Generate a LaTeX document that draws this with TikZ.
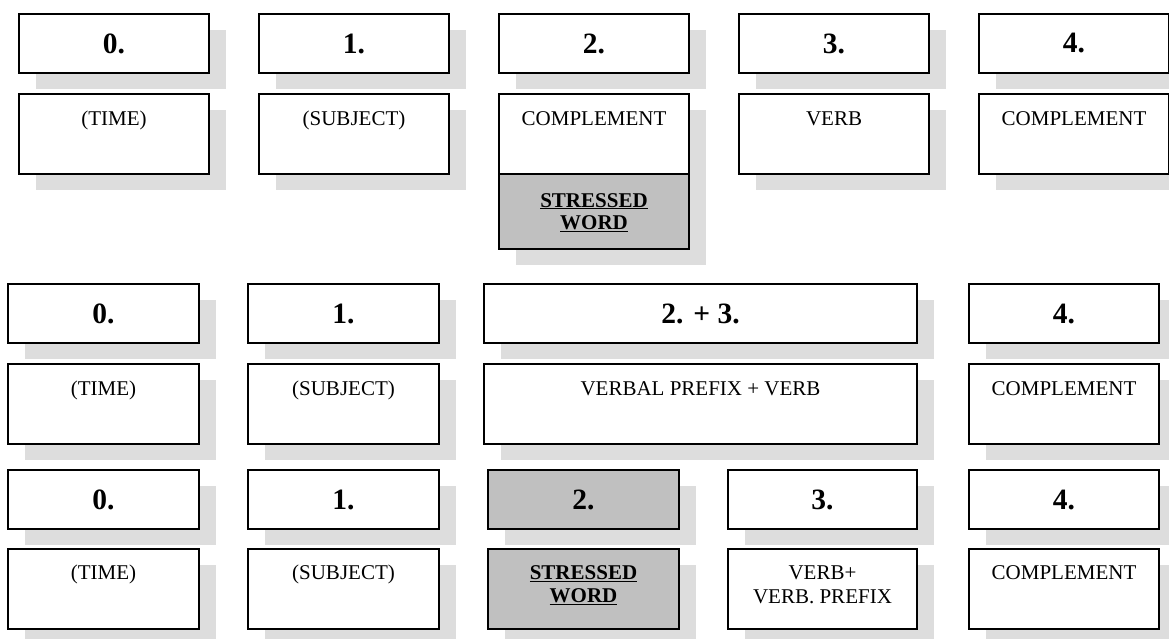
\documentclass[tikz,border=0pt]{standalone}
\usepackage{fontspec}
\setmainfont{Liberation Serif}
\usetikzlibrary{shadows}
\definecolor{shadowc}{RGB}{221,221,221}
\definecolor{stressc}{RGB}{192,192,192}
\tikzset{
  box/.style={draw=black, line width=2pt, fill=white, rectangle, inner sep=0pt,
    drop shadow={shadow xshift=17pt, shadow yshift=-16pt, fill=shadowc, opacity=1}},
  hdr/.style={box, minimum height=59pt, font=\fontsize{29.5}{32}\selectfont\bfseries},
  cbox/.style={box, minimum height=80pt},
  gbox/.style={fill=stressc},
  ctext/.style={anchor=base, inner sep=0pt, font=\fontsize{21}{24}\selectfont},
  stext/.style={align=center, inner sep=0pt, font=\fontsize{21}{23.5}\selectfont\bfseries},
  vtext/.style={align=center, inner sep=0pt, font=\fontsize{21}{24}\selectfont},
}
\newcommand{\stressword}{\underline{STRESSED}\\[-1pt]\underline{WORD}}
\begin{document}
\begin{tikzpicture}[x=1pt,y=-1pt]
\useasboundingbox (0,0) rectangle (1169,639);
% ---------------- Row 1 ----------------
\node[hdr, minimum width=190pt] (a0) at (114,43.5) {0.};
\node[hdr, minimum width=190pt] (a1) at (354,43.5) {1.};
\node[hdr, minimum width=190pt] (a2) at (594,43.5) {2.};
\node[hdr, minimum width=190pt] (a3) at (834,43.5) {3.};
\node[hdr, minimum width=190pt] (a4) at (1074,43.5) {4.};
\node[cbox, minimum width=190pt] (ac0) at (114,134) {};
\node[cbox, minimum width=190pt] (ac1) at (354,134) {};
\node[cbox, minimum width=190pt] (ac2) at (594,134) {};
\node[box, gbox, minimum width=190pt, minimum height=75pt] (as2) at (594,211.5) {};
\node[cbox, minimum width=190pt] (ac3) at (834,134) {};
\node[cbox, minimum width=190pt] (ac4) at (1074,134) {};
\node[ctext] (at0) at ([yshift=-33pt]ac0.north) {(TIME)};
\node[ctext] (at1) at ([yshift=-33pt]ac1.north) {(SUBJECT)};
\node[ctext] (at2) at ([yshift=-33pt]ac2.north) {COMPLEMENT};
\node[ctext] (at3) at ([yshift=-33pt]ac3.north) {VERB};
\node[ctext] (at4) at ([yshift=-33pt]ac4.north) {COMPLEMENT};
\node[stext] (ast2) at ([yshift=-1pt]as2.center) {\stressword};
% ---------------- Row 2 ----------------
\node[hdr, minimum width=191pt] (b0) at (103.5,313.5) {0.};
\node[hdr, minimum width=191pt] (b1) at (343.5,313.5) {1.};
\node[hdr, minimum width=433pt] (b23) at (700.5,313.5) {2. + 3.};
\node[hdr, minimum width=190pt] (b4) at (1064,313.5) {4.};
\node[cbox, minimum width=191pt] (bc0) at (103.5,404) {};
\node[cbox, minimum width=191pt] (bc1) at (343.5,404) {};
\node[cbox, minimum width=433pt] (bc23) at (700.5,404) {};
\node[cbox, minimum width=190pt] (bc4) at (1064,404) {};
\node[ctext] (bt0) at ([yshift=-32pt]bc0.north) {(TIME)};
\node[ctext] (bt1) at ([yshift=-32pt]bc1.north) {(SUBJECT)};
\node[ctext] (bt23) at ([yshift=-32pt]bc23.north) {VERBAL PREFIX + VERB};
\node[ctext] (bt4) at ([yshift=-32pt]bc4.north) {COMPLEMENT};
% ---------------- Row 3 ----------------
\node[hdr, minimum width=191pt] (c0) at (103.5,499.5) {0.};
\node[hdr, minimum width=191pt] (c1) at (343.5,499.5) {1.};
\node[hdr, gbox, minimum width=191pt] (c2) at (583.5,499.5) {2.};
\node[hdr, minimum width=189pt] (c3) at (822.5,499.5) {3.};
\node[hdr, minimum width=190pt] (c4) at (1064,499.5) {4.};
\node[cbox, minimum width=191pt] (cc0) at (103.5,589) {};
\node[cbox, minimum width=191pt] (cc1) at (343.5,589) {};
\node[cbox, gbox, minimum width=191pt] (cc2) at (583.5,589) {};
\node[cbox, minimum width=189pt] (cc3) at (822.5,589) {};
\node[cbox, minimum width=190pt] (cc4) at (1064,589) {};
\node[ctext] (ct0) at ([yshift=-31pt]cc0.north) {(TIME)};
\node[ctext] (ct1) at ([yshift=-31pt]cc1.north) {(SUBJECT)};
\node[stext] (ct2) at ([yshift=4pt]cc2.center) {\stressword};
\node[vtext] (ct3) at ([yshift=4pt]cc3.center) {VERB+\\VERB. PREFIX};
\node[ctext] (ct4) at ([yshift=-31pt]cc4.north) {COMPLEMENT};
\end{tikzpicture}
\end{document}
